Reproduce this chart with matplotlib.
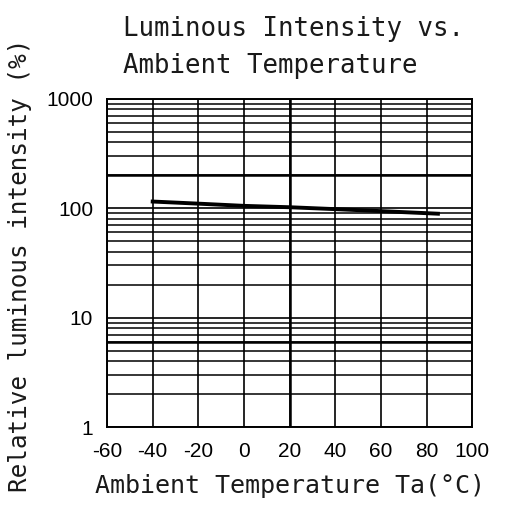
import numpy as np
import matplotlib.pyplot as plt
from matplotlib.ticker import LogLocator, NullFormatter, FixedLocator

# data
temps = [-40, -20, 0, 20, 40, 60, 80, 85]
rel_intensity = [115, 110, 105, 102, 98, 94, 90, 89]
x_ticks = [-60, -40, -20, 0, 20, 40, 60, 80, 100]
y_ticks = [1, 10, 100, 1000]
y_ticklabels = ['1', '10', '100', '1000']

tick_font = ['Liberation Sans', 'DejaVu Sans']
text_font = ['DejaVu Sans Mono']

fig = plt.figure(figsize=(5.05, 5.17), dpi=100)
ax = fig.add_axes([0.212, 0.174, 0.723, 0.635])

ax.set_yscale('log')
ax.set_xlim(-60, 100)
ax.set_ylim(1, 1000)

ax.xaxis.set_major_locator(FixedLocator(x_ticks))
ax.yaxis.set_major_locator(FixedLocator(y_ticks))
ax.yaxis.set_minor_locator(LogLocator(base=10, subs=np.arange(2, 10)))
ax.yaxis.set_minor_formatter(NullFormatter())
ax.set_xticklabels([str(t) for t in x_ticks], family=tick_font, fontsize=15)
ax.set_yticklabels(y_ticklabels, family=tick_font, fontsize=15)
ax.tick_params(axis='x', which='both', length=0, pad=11)
ax.tick_params(axis='y', which='both', length=0, pad=10)

ax.grid(True, which='major', axis='both', color='black', lw=1.2)
ax.grid(True, which='minor', axis='y', color='black', lw=1.1)
ax.axvline(20, color='black', lw=1.8)
ax.axhline(200, color='black', lw=1.8)
ax.axhline(6, color='black', lw=1.8)
for s in ax.spines.values():
    s.set_color('black')
    s.set_linewidth(1.4)

ax.plot(temps, rel_intensity, color='black', lw=2.8, zorder=5)

fig.text(0.244, 0.93, 'Luminous Intensity vs.', family=text_font, fontsize=18.5,
         color='#1a1a1a', ha='left', va='baseline')
fig.text(0.244, 0.858, 'Ambient Temperature', family=text_font, fontsize=18.5,
         color='#1a1a1a', ha='left', va='baseline')
fig.text(0.575, 0.046, 'Ambient Temperature Ta(°C)', family=text_font, fontsize=18,
         color='#1a1a1a', ha='center', va='baseline')
fig.text(0.04, 0.487, 'Relative luminous intensity (%)', family=text_font, fontsize=17.5,
         color='#1a1a1a', ha='center', va='center', rotation=90)

fig.savefig('out.png', dpi=100)
